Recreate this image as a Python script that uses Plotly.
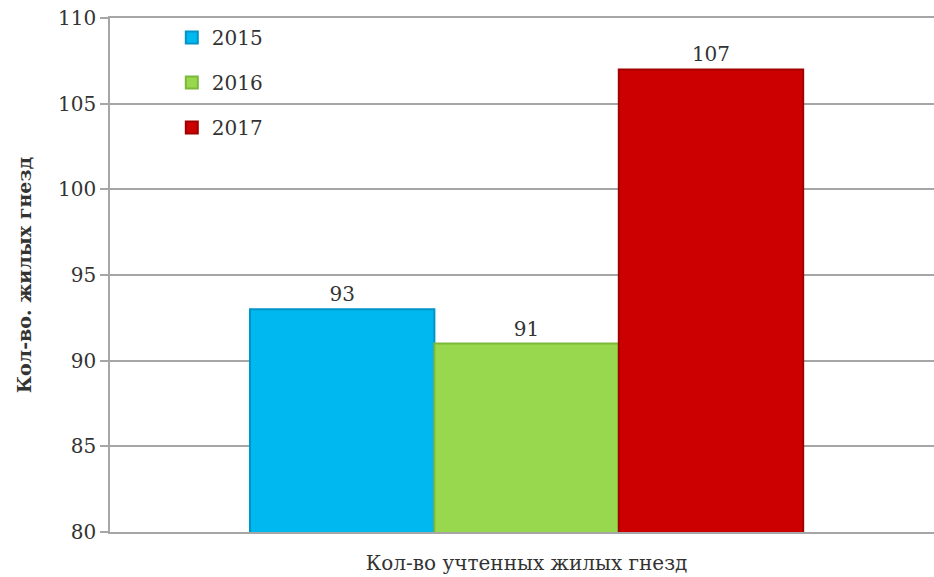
import plotly.graph_objects as go

category = ["Кол-во учтенных жилых гнезд"]
years = ["2015", "2016", "2017"]
values = [93, 91, 107]
colors = ["#00B8F0", "#98D84E", "#CC0000"]
edge_colors = ["#0094C8", "#7CB83A", "#A00000"]
y_ticks = [80, 85, 90, 95, 100, 105, 110]

font_family = "DejaVu Serif, Georgia, serif"

fig = go.Figure()
for yr, v, c, ec in zip(years, values, colors, edge_colors):
    fig.add_trace(go.Bar(
        x=category, y=[v], name=yr,
        marker=dict(color=c, line=dict(color=ec, width=2)),
        text=[str(v)], textposition="outside",
        textfont=dict(size=20, color="#333333", family=font_family),
        legendgroup=yr, cliponaxis=False,
    ))

fig.update_layout(
    width=934, height=577,
    margin=dict(l=110, r=0, t=18, b=45, autoexpand=False),
    paper_bgcolor="white", plot_bgcolor="white",
    barmode="group", bargap=0.336, bargroupgap=0,
    font=dict(family=font_family, size=18, color="#333333"),
    showlegend=True,
    legend=dict(x=0.075, y=1.0, xanchor="left", yanchor="top",
                font=dict(size=20, color="#333333", family=font_family),
                tracegroupgap=16, bgcolor="rgba(0,0,0,0)",
                itemwidth=30),
    xaxis=dict(showline=True, mirror=True, linecolor="#A6A6A6", linewidth=1.5,
               range=[-0.5, 0.489],
               ticks="", tickfont=dict(size=20, color="#333333"),
               ticklabelstandoff=12, automargin=False),
    yaxis=dict(range=[80, 110], tickvals=y_ticks, automargin=False,
               showgrid=True, gridcolor="#A6A6A6", gridwidth=1.5,
               showline=True, linecolor="#A6A6A6", linewidth=1.5,
               ticks="outside", ticklen=8, tickcolor="#A6A6A6", tickwidth=1.5,
               tickfont=dict(size=20, color="#333333"),
               title=dict(text="<b>Кол-во. жилых гнезд</b>",
                          font=dict(size=19, color="#333333"), standoff=21)),
)

fig.write_html("out.html",
               config={"displayModeBar": False},
               post_script="document.body.style.margin='0';document.body.style.overflow='hidden';")
